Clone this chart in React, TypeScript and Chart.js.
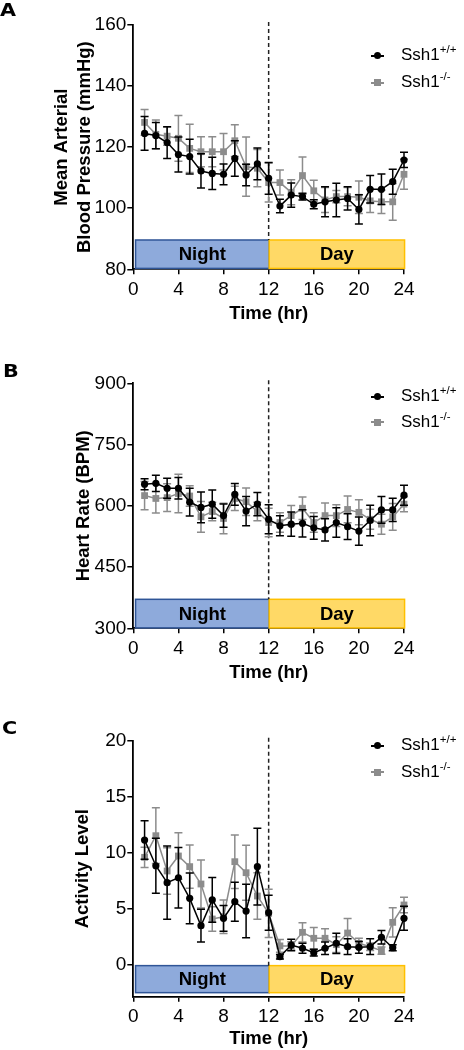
import React, { useEffect, useRef } from "react";
import { Chart, registerables } from "chart.js";

Chart.register(...registerables);

// ---------- data ----------
const hours = [1, 2, 3, 4, 5, 6, 7, 8, 9, 10, 11, 12, 13, 14, 15, 16, 17, 18, 19, 20, 21, 22, 23, 24];
const xTicks = [0, 4, 8, 12, 16, 20, 24];
const seriesLabels = ["Ssh1+/+", "Ssh1-/-"];

const mapWT = [124.5, 123.8, 121.5, 117.6, 116.9, 112.2, 111.4, 111.1, 116.3, 110.9, 114.5, 109.8, 100.7, 104.3, 103.8, 101.3, 102.1, 102.7, 103.2, 99.6, 106.2, 106.2, 108.7, 115.8];
const mapWTErr = [5.5, 4.3, 5.2, 5.7, 5.7, 5.6, 5.3, 3.4, 5.8, 3.5, 5.2, 5.2, 2.2, 4.0, 1.1, 1.5, 4.9, 5.5, 3.8, 4.8, 4.5, 5.0, 4.1, 2.5];
const mapKO = [128.1, 124.2, 123.6, 122.9, 119.6, 118.5, 118.5, 118.5, 122.1, 113.6, 113.1, 108.4, 108.4, 105.2, 110.7, 105.7, 102.7, 103.8, 103.8, 103.6, 102.4, 102.1, 102.1, 111.1];
const mapKOErr = [4.2, 4.7, 3.0, 7.5, 7.9, 4.9, 4.9, 6.0, 5.2, 9.7, 6.1, 6.4, 4.1, 4.1, 6.1, 3.5, 4.1, 2.0, 3.0, 5.3, 3.8, 3.8, 6.0, 4.9];
const mapTicks = [80, 100, 120, 140, 160];

const hrWT = [653, 655, 643, 643, 609, 596, 604, 576, 628, 587, 604, 567, 551, 555, 557, 546, 541, 559, 549, 538, 564, 590, 590, 626];
const hrWTErr = [13.5, 20, 24.5, 26.5, 34, 37.5, 34.7, 28.6, 26.5, 36, 28.6, 35.5, 24.5, 29.8, 33.5, 27.8, 27, 36, 31.8, 34.7, 37.5, 32.7, 28.6, 24.5];
const hrKO = [625, 618, 620, 630, 624, 573, 586, 569, 618, 610, 586, 559, 559, 576, 594, 559, 576, 576, 591, 584, 567, 555, 573, 604];
const hrKOErr = [34.7, 35.5, 34, 47, 25, 37.5, 22.5, 37.5, 29.8, 33.5, 22.5, 34.7, 23.7, 24.5, 27.8, 23.7, 30.6, 26.5, 32.7, 30.6, 24.5, 24.5, 32.7, 18.4];
const hrTicks = [300, 450, 600, 750, 900];

const actWT = [11.14, 8.85, 7.34, 7.78, 5.94, 3.5, 5.8, 4.16, 5.64, 4.81, 8.77, 4.66, 0.74, 1.78, 1.49, 1.1, 1.49, 1.93, 1.63, 1.57, 1.63, 2.47, 1.54, 4.16];
const actWTErr = [1.72, 2.45, 3.27, 2.7, 2.26, 1.46, 2.0, 1.15, 1.74, 2.38, 3.42, 1.56, 0.2, 0.52, 0.45, 0.3, 0.56, 0.9, 0.7, 0.52, 0.7, 0.6, 0.27, 1.07];
const actKO = [9.6, 11.53, 8.38, 9.72, 8.77, 7.22, 4.1, 4.3, 9.21, 8.23, 6.15, 4.6, 1.7, 1.7, 2.91, 2.38, 2.38, 1.81, 2.85, 1.93, 1.63, 1.28, 3.8, 5.35];
const actKOErr = [0.9, 2.48, 2.08, 2.08, 1.93, 2.13, 1.1, 1.5, 2.38, 2.45, 2.08, 2.16, 0.56, 0.37, 0.86, 0.97, 0.86, 0.7, 1.3, 0.45, 0.33, 0.33, 1.3, 0.7];
const actTicks = [0, 5, 10, 15, 20];

const phaseLabels = ["Night", "Day"];
const phaseBounds = [[0.2, 12.05], [12.05, 24.05]];

// ---------- styling ----------
const FONT = "'Liberation Sans', Arial, Helvetica, sans-serif";
const BLACK = "#000000";
const GRAY = "#8c8c8c";

type Panel = {
  letter: string;
  top: number;
  height: number;
  padTop: number;
  xHeight: number;
  titlePadBottom: number;
  yMin: number;
  yMax: number;
  yTicks: number[];
  yTitle: string | string[];
  yTitlePad: number;
  wt: number[];
  wtErr: number[];
  ko: number[];
  koErr: number[];
  box: [number, number];
  letterTop: number;
  letterLeft: number;
  legendY: [number, number];
};

const panels: Panel[] = [
  {
    letter: "A", top: 0, height: 330, padTop: 25, xHeight: 60.7, titlePadBottom: 4.8,
    yMin: 80, yMax: 160, yTicks: mapTicks, yTitle: ["Mean Arterial", "Blood Pressure (mmHg)"], yTitlePad: 50.5,
    wt: mapWT, wtErr: mapWTErr, ko: mapKO, koErr: mapKOErr, box: [80.3, 89.6],
    letterTop: 1, letterLeft: 0, legendY: [55.5, 82.5],
  },
  {
    letter: "B", top: 340, height: 350, padTop: 43.3, xHeight: 61.7, titlePadBottom: 6,
    yMin: 300, yMax: 900, yTicks: hrTicks, yTitle: "Heart Rate (BPM)", yTitlePad: 72,
    wt: hrWT, wtErr: hrWTErr, ko: hrKO, koErr: hrKOErr, box: [301, 371],
    letterTop: 362, letterLeft: 3, legendY: [396.7, 422.3],
  },
  {
    letter: "C", top: 700, height: 350, padTop: 40.7, xHeight: 53.3, titlePadBottom: 0,
    yMin: -2.83, yMax: 20, yTicks: actTicks, yTitle: "Activity Level", yTitlePad: 71,
    wt: actWT, wtErr: actWTErr, ko: actKO, koErr: actKOErr, box: [-2.47, -0.06],
    letterTop: 718.5, letterLeft: 2, legendY: [745.7, 772.3],
  },
];

const overlayPlugin = {
  id: "overlay",
  beforeDatasetsDraw(chart: any, _args: any, opts: any) {
    const { ctx, chartArea } = chart;
    const xs = chart.scales.x;
    const ys = chart.scales.y;
    const box = opts.box as [number, number];
    const yTop = ys.getPixelForValue(box[1]);
    const yBot = ys.getPixelForValue(box[0]);
    const fills = ["#8eaadb", "#ffd966"];
    const strokes = ["#2f5597", "#ffc000"];
    ctx.save();
    phaseBounds.forEach((b, i) => {
      const x0 = xs.getPixelForValue(b[0]);
      const x1 = xs.getPixelForValue(b[1]);
      ctx.fillStyle = fills[i];
      ctx.fillRect(x0, yTop, x1 - x0, yBot - yTop);
      ctx.strokeStyle = strokes[i];
      ctx.lineWidth = 1.5;
      ctx.strokeRect(x0, yTop, x1 - x0, yBot - yTop);
      ctx.fillStyle = "#000";
      ctx.font = `bold 18.5px ${FONT}`;
      ctx.textAlign = "center";
      ctx.textBaseline = "middle";
      ctx.fillText(phaseLabels[i], (x0 + x1) / 2, (yTop + yBot) / 2 + 1);
    });
    const dx = xs.getPixelForValue(12);
    ctx.strokeStyle = "#222";
    ctx.lineWidth = 1.5;
    ctx.setLineDash([4, 3]);
    ctx.beginPath();
    ctx.moveTo(dx, chartArea.top - 3);
    ctx.lineTo(dx, yTop);
    ctx.stroke();
    ctx.restore();
  },
  beforeDatasetDraw(chart: any, args: any) {
    const ds = chart.data.datasets[args.index];
    const errs: number[] | undefined = ds.errors;
    if (!errs) return;
    const { ctx } = chart;
    const xs = chart.scales.x;
    const ys = chart.scales.y;
    ctx.save();
    ctx.strokeStyle = ds.borderColor;
    ctx.lineWidth = 1.5;
    ds.data.forEach((p: any, i: number) => {
      const x = xs.getPixelForValue(p.x);
      const y0 = ys.getPixelForValue(p.y - errs[i]);
      const y1 = ys.getPixelForValue(p.y + errs[i]);
      ctx.beginPath();
      ctx.moveTo(x, y0);
      ctx.lineTo(x, y1);
      ctx.moveTo(x - 4, y0);
      ctx.lineTo(x + 4, y0);
      ctx.moveTo(x - 4, y1);
      ctx.lineTo(x + 4, y1);
      ctx.stroke();
    });
    ctx.restore();
  },
};

function PanelChart({ p }: { p: Panel }) {
  const ref = useRef<HTMLCanvasElement>(null);
  useEffect(() => {
    if (!ref.current) return;
    const chart = new Chart(ref.current, {
      type: "line",
      data: {
        datasets: [
          {
            label: seriesLabels[0],
            data: hours.map((h, i) => ({ x: h, y: p.wt[i] })),
            errors: p.wtErr,
            borderColor: BLACK,
            backgroundColor: BLACK,
            borderWidth: 1.5,
            pointStyle: "circle",
            pointRadius: 3.6,
            pointBorderWidth: 0,
            clip: false,
          } as any,
          {
            label: seriesLabels[1],
            data: hours.map((h, i) => ({ x: h, y: p.ko[i] })),
            errors: p.koErr,
            borderColor: GRAY,
            backgroundColor: GRAY,
            borderWidth: 1.5,
            pointStyle: "rect",
            pointRadius: 4.8,
            pointBorderWidth: 0,
            clip: false,
          } as any,
        ],
      },
      options: {
        responsive: false,
        animation: false,
        devicePixelRatio: 1,
        layout: { padding: { top: p.padTop, right: 60, bottom: 0, left: 0 } },
        plugins: {
          legend: { display: false },
          tooltip: { enabled: false },
          overlay: { box: p.box },
        } as any,
        scales: {
          x: {
            type: "linear",
            min: 0,
            max: 24,
            afterBuildTicks: (s: any) => {
              s.ticks = xTicks.map((v) => ({ value: v }));
            },
            afterFit: (s: any) => {
              s.height = p.xHeight;
            },
            ticks: { color: "#000", font: { family: FONT, size: 19 }, padding: 4, maxRotation: 0 },
            grid: { drawOnChartArea: false, drawTicks: true, tickLength: 5, color: "#000", lineWidth: 1.5 },
            border: { display: true, color: "#000", width: 1.8 },
            title: {
              display: true,
              text: "Time (hr)",
              color: "#000",
              font: { family: FONT, size: 18.5, weight: "bold", lineHeight: "23px" },
              padding: { top: 0, bottom: p.titlePadBottom },
            },
          },
          y: {
            type: "linear",
            min: p.yMin,
            max: p.yMax,
            afterBuildTicks: (s: any) => {
              s.ticks = p.yTicks.map((v) => ({ value: v }));
            },
            afterFit: (s: any) => {
              s.width = 133.3;
            },
            ticks: { color: "#000", font: { family: FONT, size: 19 }, padding: 1 },
            grid: { drawOnChartArea: false, drawTicks: true, tickLength: 6, color: "#000", lineWidth: 1.5 },
            border: { display: true, color: "#000", width: 1.8 },
            title: {
              display: true,
              text: p.yTitle,
              color: "#000",
              font: { family: FONT, size: 18.5, weight: "bold", lineHeight: "23px" },
              padding: { top: p.yTitlePad, bottom: 0 },
            },
          },
        },
      } as any,
      plugins: [overlayPlugin as any],
    });
    return () => chart.destroy();
  }, [p]);
  return (
    <canvas
      ref={ref}
      width={464}
      height={p.height}
      style={{ position: "absolute", left: 0, top: p.top, width: 464, height: p.height }}
    />
  );
}

function LegendRow({ y, color, square, base, sup }: { y: number; color: string; square: boolean; base: string; sup: string }) {
  return (
    <div
      style={{
        position: "absolute",
        left: 371,
        top: y - 11,
        height: 22,
        display: "flex",
        alignItems: "center",
        fontFamily: FONT,
        fontSize: 17,
        color: "#000",
        whiteSpace: "nowrap",
      }}
    >
      <div style={{ position: "relative", width: 13, height: 22 }}>
        <div style={{ position: "absolute", left: 0, top: 10, width: 13, height: 2, background: color }} />
        <div
          style={{
            position: "absolute",
            left: square ? 3 : 3,
            top: square ? 7.5 : 7.5,
            width: 7,
            height: 7,
            borderRadius: square ? 0 : "50%",
            background: color,
          }}
        />
      </div>
      <span style={{ marginLeft: 17, lineHeight: "22px" }}>
        {base}
        <span style={{ fontSize: 11.5, position: "relative", top: -7 }}>{sup}</span>
      </span>
    </div>
  );
}

export default function App() {
  return (
    <div style={{ position: "absolute", left: 0, top: 0, width: 464, height: 1050, background: "#fff", overflow: "hidden" }}>
      {panels.map((p) => (
        <PanelChart key={p.letter} p={p} />
      ))}
      {panels.map((p) => (
        <div
          key={"l" + p.letter}
          style={{
            position: "absolute",
            left: p.letterLeft,
            top: p.letterTop,
            fontFamily: "'DejaVu Sans', sans-serif",
            fontWeight: "bold",
            fontSize: 18,
            lineHeight: "18px",
            transform: "scaleX(1.15)",
            transformOrigin: "left top",
            color: "#000",
          }}
        >
          {p.letter}
        </div>
      ))}
      {panels.map((p) => (
        <React.Fragment key={"g" + p.letter}>
          <LegendRow y={p.legendY[0]} color={BLACK} square={false} base="Ssh1" sup="+/+" />
          <LegendRow y={p.legendY[1]} color={GRAY} square={true} base="Ssh1" sup="-/-" />
        </React.Fragment>
      ))}
    </div>
  );
}
